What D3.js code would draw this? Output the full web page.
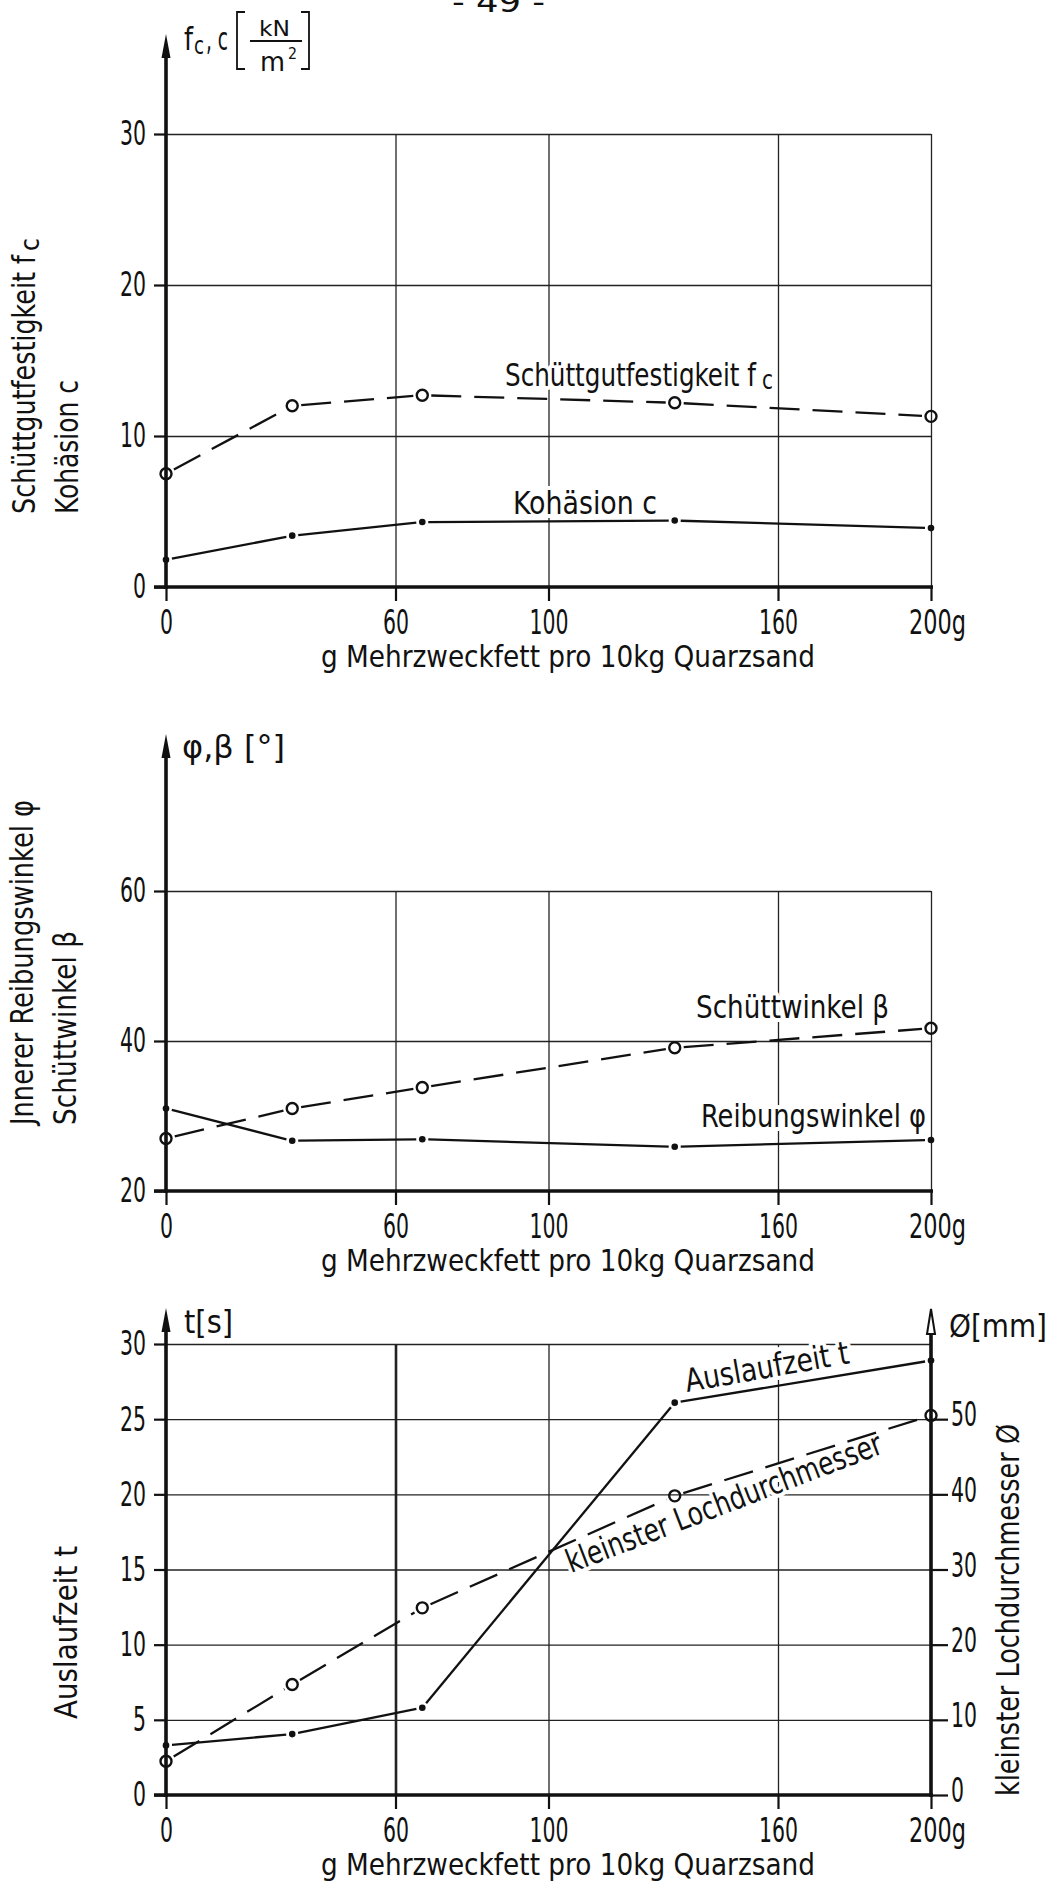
<!DOCTYPE html>
<meta charset="utf-8">
<head>
<style>
  body { margin: 0; background: #fff; }
  svg { display: block; background: #fff; }
  text { font-family: "DejaVu Sans Condensed", "Liberation Sans Narrow", "DejaVu Sans", sans-serif; fill: #111; }
  .grid line { stroke: #222; stroke-width: 1.3; }
  .grid path { display: none; }
  .axis line { stroke: #111; stroke-width: 2.2; }
  .bold { stroke: #111; stroke-width: 3.6; fill: none; }
  .data { fill: none; stroke: #111; stroke-width: 2.3; }
  .dash { stroke-dasharray: 30 13; }
  .ring { fill: none; stroke: #111; stroke-width: 2.4; }
  .dot { fill: #111; }
  .halo { stroke: #fff; stroke-width: 8; paint-order: stroke; stroke-linejoin: round; }
  .thin { stroke: #111; stroke-width: 1.8; fill: none; }
</style>
</head>
<body>
<script src="https://d3js.org/d3.v7.min.js"></script>
<script>
var W = 1059, H = 1888;

// g Mehrzweckfett pro 10 kg Quarzsand
var fett = [0, 33, 67, 133, 200];
var fettTicks = [0, 60, 100, 160, 200];

// oben: Schüttgutfestigkeit / Kohäsion in kN/m2
var festigkeit = [7.5, 12.0, 12.7, 12.2, 11.3];
var kohaesion = [1.8, 3.4, 4.3, 4.4, 3.9];
var ticksOben = [0, 10, 20, 30];

// mitte: Winkel in Grad
var schuettwinkel = [27.0, 31.0, 33.8, 39.1, 41.7];
var reibungswinkel = [31.0, 26.7, 26.9, 25.9, 26.8];
var ticksMitte = [20, 40, 60];

// unten: Auslaufzeit in s, Lochdurchmesser in mm
var auslaufzeit = [3.3, 4.05, 5.8, 26.1, 28.9];
var lochdurchmesser = [4.5, 14.7, 24.9, 39.8, 50.5];
var ticksUnten = [0, 5, 10, 15, 20, 25, 30];
var ticksRechts = [0, 10, 20, 30, 40, 50];

var svg = d3.select("body").append("svg").attr("width", W).attr("height", H);

var x = d3.scaleLinear().domain([0, 200]).range([166, 931]);
var y1 = d3.scaleLinear().domain([0, 30]).range([587, 134]);
var y2 = d3.scaleLinear().domain([20, 60]).range([1191, 891]);
var y3 = d3.scaleLinear().domain([0, 30]).range([1795, 1344]);
var y3r = d3.scaleLinear().domain([0, 60]).range([1795, 1344]);

// one text element, squeezed to a given length
function txt(g, s, px, py, size, len, angle, cls) {
  var t = g.append("text")
    .attr("transform", "translate(" + px + "," + py + ")" + (angle ? " rotate(" + angle + ")" : ""))
    .attr("font-size", size)
    .text(s);
  if (cls) t.attr("class", cls);
  if (len) t.attr("textLength", len).attr("lengthAdjust", "spacingAndGlyphs");
  return t;
}

function tickLen(s) { return String(s).length * 13; }

function grid(g, y, hTicks, vTicks) {
  var h = y.range()[0] - y.range()[1];
  var vg = g.append("g").attr("class", "grid")
    .attr("transform", "translate(0," + y.range()[0] + ")")
    .call(d3.axisBottom(x).tickValues(vTicks).tickSize(-h).tickFormat(""));
  g.append("g").attr("class", "grid")
    .attr("transform", "translate(" + x.range()[0] + ",0)")
    .call(d3.axisLeft(y).tickValues(hTicks).tickSize(-(x.range()[1] - x.range()[0])).tickFormat(""));
  return vg;
}

function axes(g, y, yTicks, tip) {
  var x0 = x.range()[0], yb = y.range()[0];
  var xa = g.append("g").attr("class", "axis")
    .attr("transform", "translate(0," + yb + ")")
    .call(d3.axisBottom(x).tickValues(fettTicks).tickSize(14).tickPadding(9)
      .tickFormat(function (d) { return d === 200 ? "200g" : d; }));
  xa.select(".domain").remove();
  xa.selectAll("text").attr("font-size", 34)
    .attr("textLength", function (d) { return d === 200 ? 57 : tickLen(d); })
    .attr("lengthAdjust", "spacingAndGlyphs")
    .attr("dx", function (d) { return d === 200 ? 6 : 0; });

  var ya = g.append("g").attr("class", "axis")
    .attr("transform", "translate(" + x0 + ",0)")
    .call(d3.axisLeft(y).tickValues(yTicks).tickSize(12).tickPadding(8));
  ya.select(".domain").remove();
  ya.selectAll("text").attr("font-size", 34)
    .attr("textLength", function (d) { return tickLen(d); })
    .attr("lengthAdjust", "spacingAndGlyphs");

  g.append("line").attr("class", "bold")
    .attr("x1", x0 - 12).attr("x2", x.range()[1] + 2).attr("y1", yb).attr("y2", yb);
  g.append("line").attr("class", "bold")
    .attr("x1", x0).attr("x2", x0).attr("y1", yb + 2).attr("y2", tip + 18);
  g.append("path").attr("fill", "#111")
    .attr("d", "M" + x0 + "," + tip + "L" + (x0 + 4.5) + "," + (tip + 24) + "L" + (x0 - 4.5) + "," + (tip + 24) + "Z");
}

// polyline drawn as single segments that stop short of the markers
function curve(g, xs, ys, y, dashed, gap) {
  var pts = xs.map(function (d, i) { return [x(d), y(ys[i])]; });
  for (var i = 0; i < pts.length - 1; i++) {
    var p = pts[i], q = pts[i + 1];
    var dx = q[0] - p[0], dy = q[1] - p[1], L = Math.sqrt(dx * dx + dy * dy);
    var ux = dx / L, uy = dy / L;
    g.append("line").attr("class", "data" + (dashed ? " dash" : ""))
      .attr("x1", p[0] + ux * gap).attr("y1", p[1] + uy * gap)
      .attr("x2", q[0] - ux * gap).attr("y2", q[1] - uy * gap);
  }
}

function rings(g, xs, ys, y) {
  g.selectAll(null).data(xs).enter().append("circle").attr("class", "ring")
    .attr("cx", function (d) { return x(d); })
    .attr("cy", function (d, i) { return y(ys[i]); })
    .attr("r", 5.5);
}

function dots(g, xs, ys, y) {
  g.selectAll(null).data(xs).enter().append("circle").attr("class", "dot")
    .attr("cx", function (d) { return x(d); })
    .attr("cy", function (d, i) { return y(ys[i]); })
    .attr("r", 3.3);
}

function xTitle(g, y) {
  txt(g, "g Mehrzweckfett pro 10kg Quarzsand", 321, y.range()[0] + 80, 30, 494);
}

// page number
txt(svg, "- 49 -", 452, 12, 28, 93);

// ---------- oben ----------
var g1 = svg.append("g");
grid(g1, y1, [10, 20, 30], [60, 100, 160, 200]);
txt(g1, "Schüttgutfestigkeit f", 505, 386, 32, 251, 0, "halo");
txt(g1, "c", 762, 389, 26, 11, 0, "halo");
txt(g1, "Kohäsion  c", 513, 514, 32, 144, 0, "halo");
curve(g1, fett, festigkeit, y1, true, 9);
curve(g1, fett, kohaesion, y1, false, 6);
rings(g1, fett, festigkeit, y1);
dots(g1, fett, kohaesion, y1);
axes(g1, y1, ticksOben, 34);
xTitle(g1, y1);
txt(g1, "Schüttgutfestigkeit f", 35, 514, 32, 259, -90);
txt(g1, "c", 39, 251, 26, 13, -90);
txt(g1, "Kohäsion c", 78, 514, 32, 134, -90);
// f_c, c [kN/m2]
txt(g1, "f", 184, 50, 32, 9);
txt(g1, "c", 194, 54, 24, 10);
txt(g1, ", c", 206, 50, 32, 22);
g1.append("path").attr("class", "thin").attr("d", "M245,12H237V69H245");
g1.append("path").attr("class", "thin").attr("d", "M301,12H309V69H301");
g1.append("line").attr("class", "thin").attr("x1", 250).attr("x2", 302).attr("y1", 41).attr("y2", 41);
txt(g1, "kN", 259, 36, 22, 31);
txt(g1, "m", 260, 71, 26, 25);
txt(g1, "2", 288, 59, 16, 9);

// ---------- mitte ----------
var g2 = svg.append("g");
grid(g2, y2, [40, 60], [60, 100, 160, 200]);
txt(g2, "Schüttwinkel β", 696, 1018, 32, 193, 0, "halo");
txt(g2, "Reibungswinkel φ", 701, 1127, 32, 225, 0, "halo");
curve(g2, fett, schuettwinkel, y2, true, 9);
curve(g2, fett, reibungswinkel, y2, false, 6);
rings(g2, fett, schuettwinkel, y2);
dots(g2, fett, reibungswinkel, y2);
axes(g2, y2, ticksMitte, 734);
xTitle(g2, y2);
txt(g2, "Jnnerer Reibungswinkel φ", 33, 1125, 32, 325, -90);
txt(g2, "Schüttwinkel β", 76, 1125, 32, 194, -90);
txt(g2, "φ,β [°]", 182, 758, 32, 103);

// ---------- unten ----------
var g3 = svg.append("g");
var vg3 = grid(g3, y3, [5, 10, 15, 20, 25, 30], [60, 100, 160]);
vg3.selectAll(".tick line").filter(function (d) { return d === 60; }).style("stroke-width", 2.6);
txt(g3, "Auslaufzeit t", 687, 1392, 32, 166, -10, "halo");
txt(g3, "kleinster Lochdurchmesser", 571, 1573, 32, 336, -21, "halo");
curve(g3, fett, lochdurchmesser, y3r, true, 9);
curve(g3, fett, auslaufzeit, y3, false, 6);
rings(g3, fett, lochdurchmesser, y3r);
dots(g3, fett, auslaufzeit, y3);
axes(g3, y3, ticksUnten, 1308);
xTitle(g3, y3);

// right axis
var xr = x.range()[1];
var ra = g3.append("g").attr("class", "axis")
  .attr("transform", "translate(" + xr + ",0)")
  .call(d3.axisRight(y3r).tickValues(ticksRechts).tickSize(17).tickPadding(3));
ra.select(".domain").remove();
ra.selectAll("text").attr("font-size", 34).attr("dy", "0.2em")
  .attr("textLength", function (d) { return tickLen(d); })
  .attr("lengthAdjust", "spacingAndGlyphs");
g3.append("line").attr("class", "bold")
  .attr("x1", xr).attr("x2", xr).attr("y1", y3r.range()[0] + 2).attr("y2", 1333);
g3.append("path").attr("fill", "#fff").attr("stroke", "#111").attr("stroke-width", 2)
  .attr("d", "M" + xr + ",1309L" + (xr + 4) + ",1334L" + (xr - 4) + ",1334Z");

txt(g3, "Auslaufzeit t", 77, 1719, 32, 173, -90);
txt(g3, "kleinster Lochdurchmesser Ø", 1019, 1796, 32, 372, -90);
txt(g3, "t[s]", 184, 1333, 32, 49);
txt(g3, "Ø[mm]", 949, 1337, 32, 98);
</script>
</body>
